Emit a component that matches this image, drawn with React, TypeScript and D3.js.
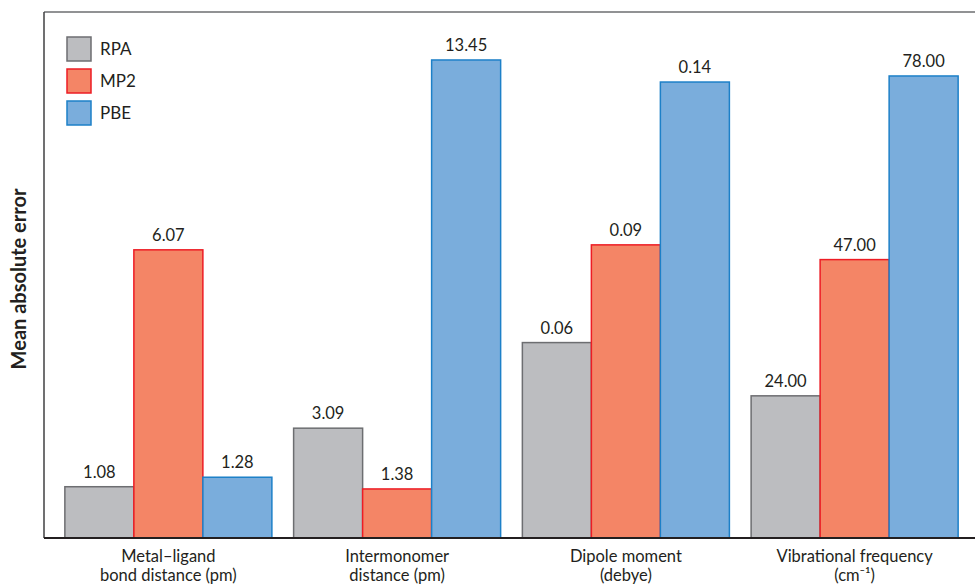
import React from "react";
import * as d3 from "d3";

const categories = [
  ["Metal\u2013ligand", "bond distance (pm)"],
  ["Intermonomer", "distance (pm)"],
  ["Dipole moment", "(debye)"],
  ["Vibrational frequency", "(cm\u207B\u00B9)"],
];
const seriesNames = ["RPA", "MP2", "PBE"];
const rpaValues = [1.08, 3.09, 0.06, 24.0];
const mp2Values = [6.07, 1.38, 0.09, 47.0];
const pbeValues = [1.28, 13.45, 0.14, 78.0];
const valueLabels = [
  ["1.08", "6.07", "1.28"],
  ["3.09", "1.38", "13.45"],
  ["0.06", "0.09", "0.14"],
  ["24.00", "47.00", "78.00"],
];
// each group is drawn on its own scale (value at the top of the frame)
const groupScaleMax = [11.08, 14.8, 0.1615, 88.8];

const W = 975;
const H = 585;
const left = 44;
const top = 12;
const bottom = 538;
const fills = ["#bcbdc0", "#f48566", "#7aaddc"];
const strokes = ["#6d6e71", "#ed1c24", "#1d80c8"];
const textColor = "#231f20";
const font = "Lato, 'Open Sans', sans-serif";

export default function App() {
  const series = [rpaValues, mp2Values, pbeValues];
  const idx = categories.map((_, i) => i);
  const x0 = d3
    .scaleBand<number>()
    .domain(idx)
    .range([54, 969])
    .paddingInner(0.095)
    .paddingOuter(0.0475);
  const x1 = d3
    .scaleBand<number>()
    .domain([0, 1, 2])
    .range([0, x0.bandwidth()]);
  const yScales = groupScaleMax.map((m) =>
    d3.scaleLinear().domain([0, m]).range([bottom, top])
  );

  return (
    <svg
      width={W}
      height={H}
      style={{ position: "absolute", left: 0, top: 0, background: "#fff" }}
      fontFamily={font}
    >
      <rect x={0} y={0} width={W} height={H} fill="#fff" />
      {/* frame */}
      <line x1={left} x2={W} y1={top} y2={top} stroke="#6d6e71" strokeWidth={1.5} />
      <line x1={left} x2={left} y1={top} y2={bottom} stroke="#414042" strokeWidth={1.5} />
      {/* bars */}
      {idx.map((g) =>
        series.map((vals, s) => {
          const y = yScales[g](vals[g]);
          const bx = (x0(g) as number) + (x1(s) as number);
          return (
            <g key={`${g}-${s}`}>
              <rect
                x={bx}
                y={y}
                width={x1.bandwidth()}
                height={bottom - y}
                fill={fills[s]}
                stroke={strokes[s]}
                strokeWidth={1.5}
              />
              <text
                x={bx + x1.bandwidth() / 2}
                y={y - 9}
                textAnchor="middle"
                fontSize={16.5}
                fill={textColor}
              >
                {valueLabels[g][s]}
              </text>
            </g>
          );
        })
      )}
      <line x1={left} x2={W} y1={bottom} y2={bottom} stroke="#231f20" strokeWidth={1.8} />
      {/* category labels */}
      {idx.map((g) => {
        const cx = (x0(g) as number) + x0.bandwidth() / 2;
        return (
          <g key={g}>
            <text x={cx} y={562} textAnchor="middle" fontSize={16.5} fill={textColor}>
              {categories[g][0]}
            </text>
            <text x={cx} y={581} textAnchor="middle" fontSize={16.5} fill={textColor}>
              {categories[g][1]}
            </text>
          </g>
        );
      })}
      {/* y title */}
      <text
        transform={`translate(26,279) rotate(-90)`}
        textAnchor="middle"
        fontSize={20}
        fontWeight="bold"
        fill={textColor}
      >
        Mean absolute error
      </text>
      {/* legend */}
      {seriesNames.map((n, i) => (
        <g key={n} transform={`translate(67,${37 + i * 32})`}>
          <rect x={0} y={0} width={24} height={24} fill={fills[i]} stroke={strokes[i]} strokeWidth={1.5} />
          <text x={33} y={18} fontSize={17} fill={textColor}>
            {n}
          </text>
        </g>
      ))}
    </svg>
  );
}
